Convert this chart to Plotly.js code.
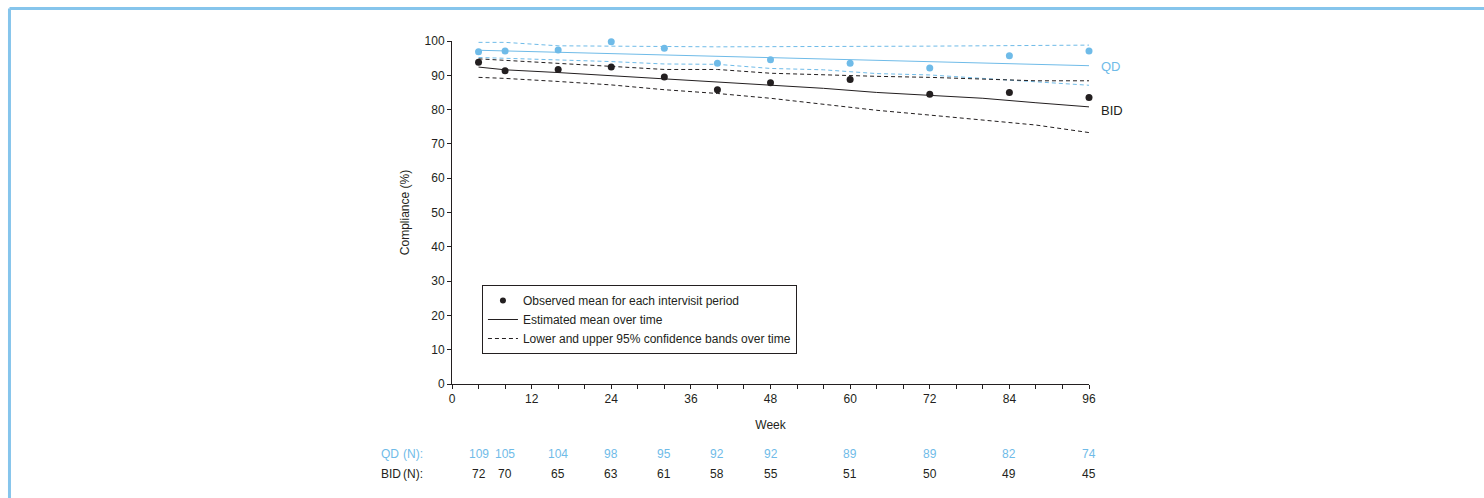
<!DOCTYPE html>
<html>
<head>
<meta charset="utf-8">
<script src="https://cdn.plot.ly/plotly-3.0.1.min.js"></script>
<style>
  html, body { margin: 0; padding: 0; background: #fff; }
  #chart { width: 1484px; height: 498px; }
</style>
</head>
<body>
<div id="chart"></div>
<script>
// ---- Data ----
const obsWeeks = [4, 8, 16, 24, 32, 40, 48, 60, 72, 84, 96];
const qdObserved  = [96.9, 97.1, 97.4, 99.8, 97.9, 93.5, 94.5, 93.5, 92.1, 95.7, 97.1];
const bidObserved = [93.8, 91.3, 91.7, 92.4, 89.5, 85.8, 87.8, 88.8, 84.5, 85.0, 83.5];

const lineWeeks = [4, 8, 16, 24, 32, 40, 48, 56, 64, 72, 80, 88, 96];
const qdMean  = [97.3, 97.1, 96.8, 96.5, 96.1, 95.6, 95.1, 94.8, 94.4, 94.0, 93.6, 93.2, 92.8];
const qdUpper = [99.6, 99.6, 98.6, 98.6, 98.4, 98.3, 98.3, 98.4, 98.5, 98.5, 98.6, 98.7, 98.8];
const qdLower = [95.2, 95.0, 94.6, 94.0, 93.3, 93.2, 92.0, 91.6, 90.5, 90.1, 89.1, 88.2, 87.1];
const bidMean  = [92.4, 91.6, 90.8, 89.9, 88.8, 88.0, 87.2, 86.2, 85.0, 84.2, 83.3, 82.0, 80.8];
const bidUpper = [94.8, 94.4, 93.4, 92.6, 91.7, 91.7, 90.6, 90.1, 89.7, 89.4, 88.8, 88.4, 88.4];
const bidLower = [89.4, 89.1, 88.2, 87.2, 85.8, 84.7, 83.3, 81.5, 79.8, 78.4, 77.0, 75.5, 73.3];

const qdN  = [109, 105, 104, 98, 95, 92, 92, 89, 89, 82, 74];
const bidN = [72, 70, 65, 63, 61, 58, 55, 51, 50, 49, 45];

const xTickVals = [0, 4, 8, 12, 16, 20, 24, 28, 32, 36, 40, 44, 48, 52, 56, 60, 64, 68, 72, 76, 80, 84, 88, 92, 96];
const xTickText = ['0', '', '', '12', '', '', '24', '', '', '36', '', '', '48', '', '', '60', '', '', '72', '', '', '84', '', '', '96'];

const legendLabels = ['Observed mean for each intervisit period', 'Estimated mean over time', 'Lower and upper 95% confidence bands over time'];
const groupLabels = ['QD', 'BID'];

// ---- Styles ----
const BLUE = '#6fbbe8';
const BLACK = '#231f20';
const FONT = '"Liberation Sans Narrow", "Arial Narrow", "Liberation Sans", sans-serif';
const DASH = '4px,3px';

function lineTrace(y, color, dash) {
  return { x: lineWeeks, y: y, type: 'scatter', mode: 'lines',
           line: { color: color, width: 1, dash: dash }, showlegend: false, hoverinfo: 'skip', cliponaxis: false };
}

const traces = [
  lineTrace(qdUpper, BLUE, DASH),
  lineTrace(qdLower, BLUE, DASH),
  lineTrace(bidUpper, BLACK, DASH),
  lineTrace(bidLower, BLACK, DASH),
  lineTrace(qdMean, BLUE, 'solid'),
  lineTrace(bidMean, BLACK, 'solid'),
  { x: obsWeeks, y: qdObserved, type: 'scatter', mode: 'markers', cliponaxis: false,
    marker: { color: BLUE, size: 7 }, showlegend: false, hoverinfo: 'skip' },
  { x: obsWeeks, y: bidObserved, type: 'scatter', mode: 'markers', cliponaxis: false,
    marker: { color: BLACK, size: 7 }, showlegend: false, hoverinfo: 'skip' },
  // legend entries
  { x: [null], y: [null], type: 'scatter', mode: 'markers', name: legendLabels[0],
    marker: { color: BLACK, size: 6 }, hoverinfo: 'skip' },
  { x: [null], y: [null], type: 'scatter', mode: 'lines', name: legendLabels[1],
    line: { color: BLACK, width: 1 }, hoverinfo: 'skip' },
  { x: [null], y: [null], type: 'scatter', mode: 'lines', name: legendLabels[2],
    line: { color: BLACK, width: 1, dash: DASH }, hoverinfo: 'skip' }
];

// ---- Annotations ----
const annotations = [];
// End-of-line labels
annotations.push({ x: lineWeeks[lineWeeks.length - 1], y: qdMean[qdMean.length - 1], xref: 'x', yref: 'y',
  text: groupLabels[0], showarrow: false, xanchor: 'left', yanchor: 'middle', xshift: 10, yshift: -1,
  font: { family: FONT, size: 13, color: BLUE } });
annotations.push({ x: lineWeeks[lineWeeks.length - 1], y: bidMean[bidMean.length - 1], xref: 'x', yref: 'y',
  text: groupLabels[1], showarrow: false, xanchor: 'left', yanchor: 'middle', xshift: 10, yshift: -4,
  font: { family: FONT, size: 13, color: BLACK } });

// N table
const rowY = [-0.204, -0.262];
const rowColors = [BLUE, BLACK];
const rowN = [qdN, bidN];
for (let r = 0; r < 2; r++) {
  annotations.push({ x: -0.1146, y: rowY[r], xref: 'paper', yref: 'paper', text: groupLabels[r],
    showarrow: false, xanchor: 'left', yanchor: 'middle', font: { family: FONT, size: 12, color: rowColors[r] } });
  annotations.push({ x: -0.0800, y: rowY[r], xref: 'paper', yref: 'paper', text: '(N):',
    showarrow: false, xanchor: 'left', yanchor: 'middle', font: { family: FONT, size: 12, color: rowColors[r] } });
  for (let i = 0; i < obsWeeks.length; i++) {
    annotations.push({ x: obsWeeks[i], y: rowY[r], xref: 'x', yref: 'paper', text: String(rowN[r][i]),
      showarrow: false, xanchor: 'center', yanchor: 'middle', font: { family: FONT, size: 12, color: rowColors[r] } });
  }
}

// ---- Frame (light blue border, top and left) ----
const FRAME = '#86c5ec';
const shapes = [
  { type: 'line', xref: 'paper', yref: 'paper', x0: -0.6947, x1: 1.7, y0: 1.0948, y1: 1.0948,
    line: { color: FRAME, width: 3 } },
  { type: 'line', xref: 'paper', yref: 'paper', x0: -0.6947, x1: -0.6947, y0: 1.0948, y1: -0.4,
    line: { color: FRAME, width: 3 } }
];

const layout = {
  width: 1484, height: 498,
  margin: { l: 452, r: 395, t: 41, b: 114, pad: 0 },
  paper_bgcolor: '#ffffff', plot_bgcolor: '#ffffff',
  font: { family: FONT, size: 12, color: BLACK },
  showlegend: true,
  legend: { x: 0.047, y: 0.2886, xanchor: 'left', yanchor: 'top',
            bordercolor: BLACK, borderwidth: 1, bgcolor: '#ffffff',
            font: { family: FONT, size: 12, color: BLACK }, itemwidth: 30, tracegroupgap: 0 },
  xaxis: {
    range: [0, 96], tickmode: 'array', tickvals: xTickVals, ticktext: xTickText,
    showgrid: false, zeroline: false, showline: true, linecolor: BLACK, linewidth: 1,
    ticks: 'outside', ticklen: 4, tickwidth: 1, tickcolor: BLACK,
    tickfont: { family: FONT, size: 12, color: BLACK },
    title: { text: 'Week', font: { family: FONT, size: 12, color: BLACK }, standoff: 15 },
    fixedrange: true
  },
  yaxis: {
    range: [0, 100], tickmode: 'linear', tick0: 0, dtick: 10,
    showgrid: false, zeroline: false, showline: true, linecolor: BLACK, linewidth: 1,
    ticks: 'outside', ticklen: 4, tickwidth: 1, tickcolor: BLACK,
    tickfont: { family: FONT, size: 12, color: BLACK },
    title: { text: 'Compliance (%)', font: { family: FONT, size: 12, color: BLACK }, standoff: 12 },
    fixedrange: true
  },
  annotations: annotations,
  shapes: shapes
};

Plotly.newPlot('chart', traces, layout, { displayModeBar: false, staticPlot: true });
</script>
</body>
</html>
